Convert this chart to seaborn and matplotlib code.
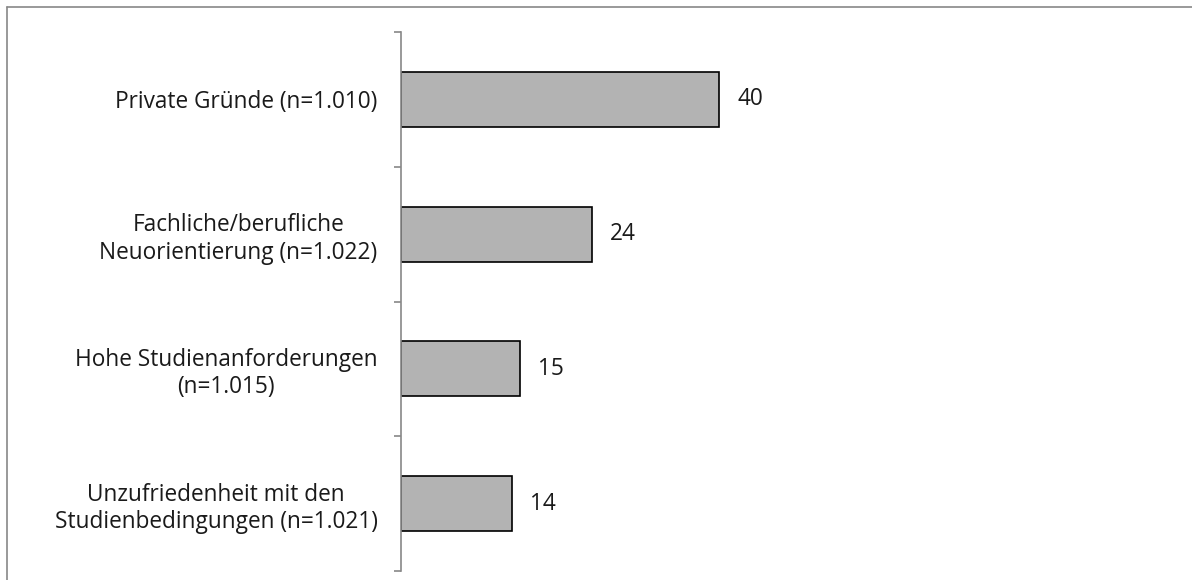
import pandas as pd
import numpy as np
import seaborn as sns
import matplotlib.pyplot as plt
from matplotlib.lines import Line2D

categories = ['Private Gründe (n=1.010)',
              'Fachliche/berufliche\nNeuorientierung (n=1.022)',
              'Hohe Studienanforderungen\n(n=1.015)',
              'Unzufriedenheit mit den\nStudienbedingungen (n=1.021)']
values = [40, 24, 15, 14]

df = pd.DataFrame({'Grund': categories, 'Prozent': values})

sns.set_style('white')
plt.rcParams['font.family'] = ['Open Sans', 'DejaVu Sans']

fig = plt.figure(figsize=(11.92, 5.8), dpi=100)
ax = fig.add_axes([401 / 1192, 9 / 580, 779 / 1192, 539 / 580])

sns.barplot(data=df, x='Prozent', y='Grund', orient='h', color='#b3b3b3',
            edgecolor='black', linewidth=1.2, width=0.41, saturation=1, ax=ax)

ax.bar_label(ax.containers[0], fmt='%d', padding=13, fontsize=16.3, color='#1a1a1a')

ax.set_xlim(0, 98)
ax.set_ylim(3.5, -0.5)
ax.set_xlabel('')
ax.set_ylabel('')
ax.set_xticks([])
ax.tick_params(axis='y', which='major', length=0, pad=17, labelsize=16.3, labelcolor='#1a1a1a')
ax.set_yticks(np.arange(-0.5, 4, 1), minor=True)
ax.tick_params(axis='y', which='minor', length=5, width=1.2, color='#888888', left=True)
for lab in ax.get_yticklabels():
    lab.set_linespacing(1.2)
    lab.set_horizontalalignment('right')
    lab.set_multialignment('center')

sns.despine(ax=ax, top=True, right=True, bottom=True)
ax.spines['left'].set_color('#888888')
ax.spines['left'].set_linewidth(1.2)

# grey frame around the chart area
fig.add_artist(Line2D([7 / 1192, 7 / 1192], [0, 1 - 7 / 580], color='#888888', lw=1.2))
fig.add_artist(Line2D([7 / 1192, 1], [1 - 7 / 580, 1 - 7 / 580], color='#888888', lw=1.2))

plt.savefig('out.png', dpi=100)
